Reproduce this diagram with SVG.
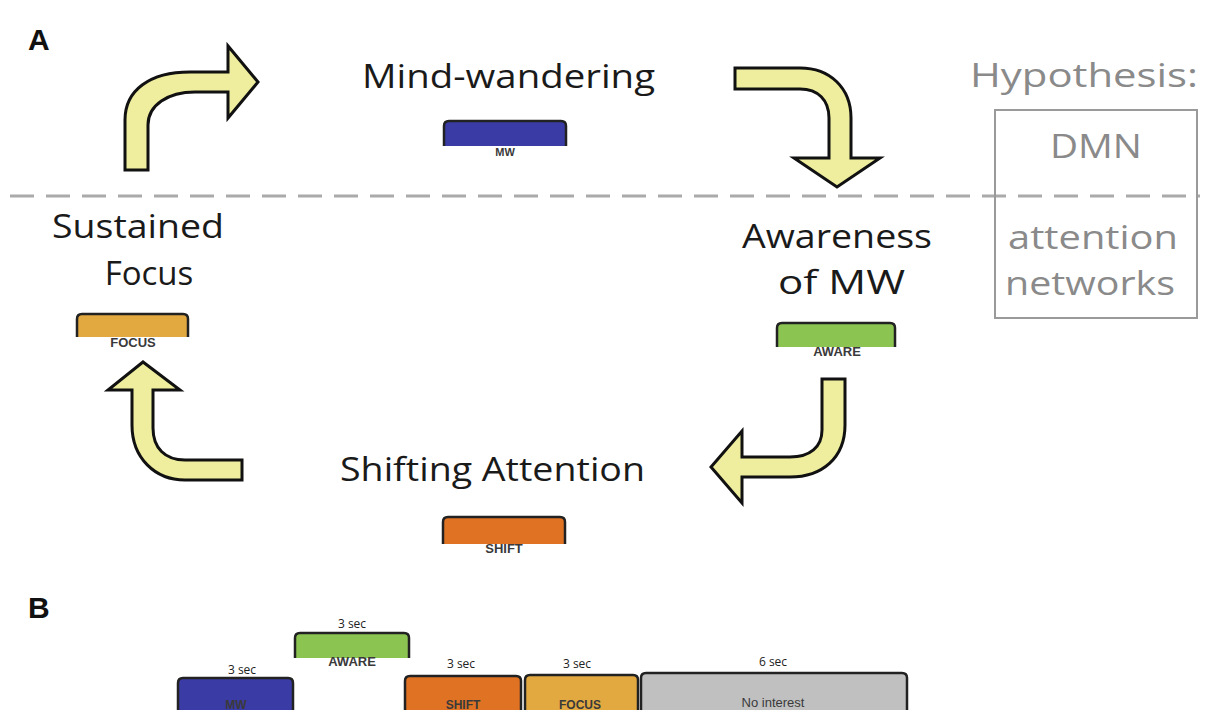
<svg xmlns="http://www.w3.org/2000/svg" width="1212" height="710" viewBox="0 0 1212 710">
  <defs>
    <style>
      .big { font-family: "Open Sans", "Liberation Sans", sans-serif; font-size: 33px; fill: #1a1a1a; }
      .hyp { font-family: "Open Sans", "Liberation Sans", sans-serif; font-size: 33px; fill: #8a8a8a; }
      .panel { font-family: "Liberation Sans", Arial, sans-serif; font-size: 30px; font-weight: bold; fill: #111; }
      .arrow { fill: #eeee9e; stroke: #111; stroke-width: 3; stroke-linejoin: miter; }
      .edge { fill: none; stroke: #222; stroke-width: 2.5; }
      .tabtxt { font-family: "Liberation Sans", Arial, sans-serif; font-size: 13px; font-weight: bold; fill: #3a3a3a; text-anchor: middle; }
      .dur { font-family: "Open Sans", "Liberation Sans", sans-serif; font-size: 12px; fill: #222; text-anchor: middle; }
      .mw { fill: #3b3ba6; }
      .aware { fill: #8cc452; }
      .shift { fill: #e07224; }
      .focus { fill: #e2a940; }
      .none { fill: #c0c0c0; }
    </style>
  </defs>

  <rect width="1212" height="710" fill="#ffffff"/>

  <!-- panel letters -->
  <text class="panel" x="28" y="50">A</text>
  <text class="panel" x="28" y="618">B</text>

  <!-- DMN / attention divider -->
  <line x1="10" y1="196" x2="1200" y2="196" stroke="#aaaaaa" stroke-width="3" stroke-dasharray="24 12"/>

  <!-- hypothesis box -->
  <g id="hypothesis">
    <text class="hyp" x="970" y="87" textLength="228" lengthAdjust="spacingAndGlyphs">Hypothesis:</text>
    <rect x="995" y="110" width="202" height="208" fill="none" stroke="#9a9a9a" stroke-width="2"/>
    <text class="hyp" x="1050" y="158" textLength="92" lengthAdjust="spacingAndGlyphs">DMN</text>
    <text class="hyp" x="1008" y="249" textLength="170" lengthAdjust="spacingAndGlyphs">attention</text>
    <text class="hyp" x="1005" y="295" textLength="170" lengthAdjust="spacingAndGlyphs">networks</text>
  </g>

  <!-- cycle arrows -->
  <g id="connectors">
    <path class="arrow" d="M125,170 L125,120 C125,90 150,72 190,72 L228,72 L228,46 L258,82 L228,118 L228,92 L195,92 C168,92 148,105 148,125 L148,170 Z"/>
    <path class="arrow" d="M735,68 L800,68 C830,68 851,88 851,118 L851,158 L880,158 L837,187 L794,158 L829,158 L829,118 C829,100 818,89 800,89 L735,89 Z"/>
    <path class="arrow" d="M822,379 L845,379 L845,425 C845,458 822,477 790,477 L742,477 L742,503 L711,467 L742,431 L742,457 L790,457 C810,457 822,447 822,430 Z"/>
    <path class="arrow" d="M242,460 L185,460 C165,460 153,448 153,428 L153,390 L180,390 L143,362 L108,390 L132,390 L132,425 C132,458 155,480 185,480 L242,480 Z"/>
  </g>

  <!-- states -->
  <g id="state-mw">
    <text class="big" x="362" y="88" textLength="293" lengthAdjust="spacingAndGlyphs">Mind-wandering</text>
    <path class="mw" d="M444,146 L444,126 Q444,121 449,121 L561,121 Q566,121 566,126 L566,146 Z"/>
    <path class="edge" d="M444,146 L444,126 Q444,121 449,121 L561,121 Q566,121 566,126 L566,146"/>
    <text class="tabtxt" x="505" y="156" style="font-size:11px">MW</text>
  </g>

  <g id="state-aware">
    <text class="big" x="742" y="248" textLength="190" lengthAdjust="spacingAndGlyphs">Awareness</text>
    <text class="big" x="778" y="294" textLength="127" lengthAdjust="spacingAndGlyphs">of MW</text>
    <path class="aware" d="M777,347 L777,328 Q777,323 782,323 L890,323 Q895,323 895,328 L895,347 Z"/>
    <path class="edge" d="M777,347 L777,328 Q777,323 782,323 L890,323 Q895,323 895,328 L895,347"/>
    <text class="tabtxt" x="837" y="356">AWARE</text>
  </g>

  <g id="state-shift">
    <text class="big" x="340" y="481" textLength="305" lengthAdjust="spacingAndGlyphs">Shifting Attention</text>
    <path class="shift" d="M443,544 L443,522 Q443,517 448,517 L560,517 Q565,517 565,522 L565,544 Z"/>
    <path class="edge" d="M443,544 L443,522 Q443,517 448,517 L560,517 Q565,517 565,522 L565,544"/>
    <text class="tabtxt" x="504" y="553">SHIFT</text>
  </g>

  <g id="state-focus">
    <text class="big" x="52" y="238" textLength="172" lengthAdjust="spacingAndGlyphs">Sustained</text>
    <text class="big" x="149" y="285" text-anchor="middle">Focus</text>
    <path class="focus" d="M77,337 L77,319 Q77,314 82,314 L183,314 Q188,314 188,319 L188,337 Z"/>
    <path class="edge" d="M77,337 L77,319 Q77,314 82,314 L183,314 Q188,314 188,319 L188,337"/>
    <text class="tabtxt" x="133" y="347">FOCUS</text>
  </g>

  <!-- timeline of one trial -->
  <g id="timeline">
    <g id="t-mw">
      <text class="dur" x="242" y="674">3 sec</text>
      <path class="mw" d="M178,712 L178,683 Q178,678 183,678 L288,678 Q293,678 293,683 L293,712 Z"/>
      <path class="edge" d="M178,712 L178,683 Q178,678 183,678 L288,678 Q293,678 293,683 L293,712"/>
      <text class="tabtxt" x="236" y="709" style="font-size:12px">MW</text>
    </g>
    <g id="t-aware">
      <text class="dur" x="352" y="628">3 sec</text>
      <path class="aware" d="M295,658 L295,638 Q295,633 300,633 L404,633 Q409,633 409,638 L409,658 Z"/>
      <path class="edge" d="M295,658 L295,638 Q295,633 300,633 L404,633 Q409,633 409,638 L409,658"/>
      <text class="tabtxt" x="352" y="666">AWARE</text>
    </g>
    <g id="t-shift">
      <text class="dur" x="461" y="668">3 sec</text>
      <path class="shift" d="M405,712 L405,681 Q405,676 410,676 L516,676 Q521,676 521,681 L521,712 Z"/>
      <path class="edge" d="M405,712 L405,681 Q405,676 410,676 L516,676 Q521,676 521,681 L521,712"/>
      <text class="tabtxt" x="463" y="709" style="font-size:12px">SHIFT</text>
    </g>
    <g id="t-focus">
      <text class="dur" x="577" y="668">3 sec</text>
      <path class="focus" d="M525,712 L525,680 Q525,675 530,675 L633,675 Q638,675 638,680 L638,712 Z"/>
      <path class="edge" d="M525,712 L525,680 Q525,675 530,675 L633,675 Q638,675 638,680 L638,712"/>
      <text class="tabtxt" x="580" y="709" style="font-size:12px">FOCUS</text>
    </g>
    <g id="t-none">
      <text class="dur" x="773" y="666">6 sec</text>
      <path class="none" d="M641,712 L641,678 Q641,673 646,673 L902,673 Q907,673 907,678 L907,712 Z"/>
      <path class="edge" d="M641,712 L641,678 Q641,673 646,673 L902,673 Q907,673 907,678 L907,712"/>
      <text class="tabtxt" x="773" y="707" style="font-weight:normal">No interest</text>
    </g>
  </g>
</svg>
